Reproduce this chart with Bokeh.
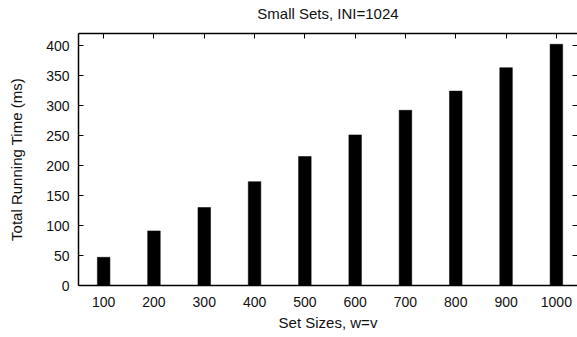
from bokeh.plotting import figure
from bokeh.models import LinearAxis, FixedTicker, CustomJSTickFormatter
from bokeh.embed import file_html
from bokeh.resources import INLINE

set_sizes = [100, 200, 300, 400, 500, 600, 700, 800, 900, 1000]
running_ms = [47, 91, 130, 173, 215, 251, 292, 324, 363, 402]
y_ticks = [0, 50, 100, 150, 200, 250, 300, 350, 400]
title_text = "Small Sets, INI=1024"

FONT = "Liberation Sans"

p = figure(width=577, height=337, x_range=(50, 1042), y_range=(0, 420),
           output_backend="svg", toolbar_location=None,
           min_border_left=78, min_border_right=0, min_border_top=33, min_border_bottom=52)

p.vbar(x=set_sizes, top=running_ms, width=25, bottom=0,
       fill_color="black", line_color="black", line_width=0.5)

p.grid.visible = False
p.outline_line_color = None
p.background_fill_color = "white"
p.border_fill_color = "white"

xa = p.xaxis[0]
xa.ticker = FixedTicker(ticks=set_sizes)
xa.axis_label = "Set Sizes, w=v"
ya = p.yaxis[0]
ya.ticker = FixedTicker(ticks=y_ticks)
ya.axis_label = "Total Running Time (ms)"

empty = CustomJSTickFormatter(code="return '';")

# top axis: frame line, inward ticks, and the chart title as its label
top = LinearAxis(ticker=FixedTicker(ticks=set_sizes), formatter=empty)
top.axis_label = title_text
top.major_label_standoff = 0

right = LinearAxis(ticker=FixedTicker(ticks=y_ticks), formatter=empty)
right.major_label_standoff = 0

for ax in (xa, ya, top, right):
    ax.axis_line_color = "black"
    ax.axis_line_width = 1.5
    ax.major_tick_in = 5
    ax.major_tick_out = 0
    ax.minor_tick_line_color = None
    ax.major_tick_line_color = "black"
    ax.major_label_text_font = FONT
    ax.major_label_text_font_size = "14px"
    ax.major_label_text_color = "#111111"
    ax.axis_label_text_font = FONT
    ax.axis_label_text_font_size = "15px"
    ax.axis_label_text_font_style = "normal"
    ax.axis_label_text_color = "#111111"

right.axis_line_color = None
xa.major_label_standoff = 11
xa.axis_label_standoff = 4
ya.major_label_standoff = 9
ya.axis_label_standoff = 18
top.axis_label_standoff = 12

p.add_layout(top, "above")
p.add_layout(right, "right")

open("out.html", "w").write(file_html(p, INLINE))
